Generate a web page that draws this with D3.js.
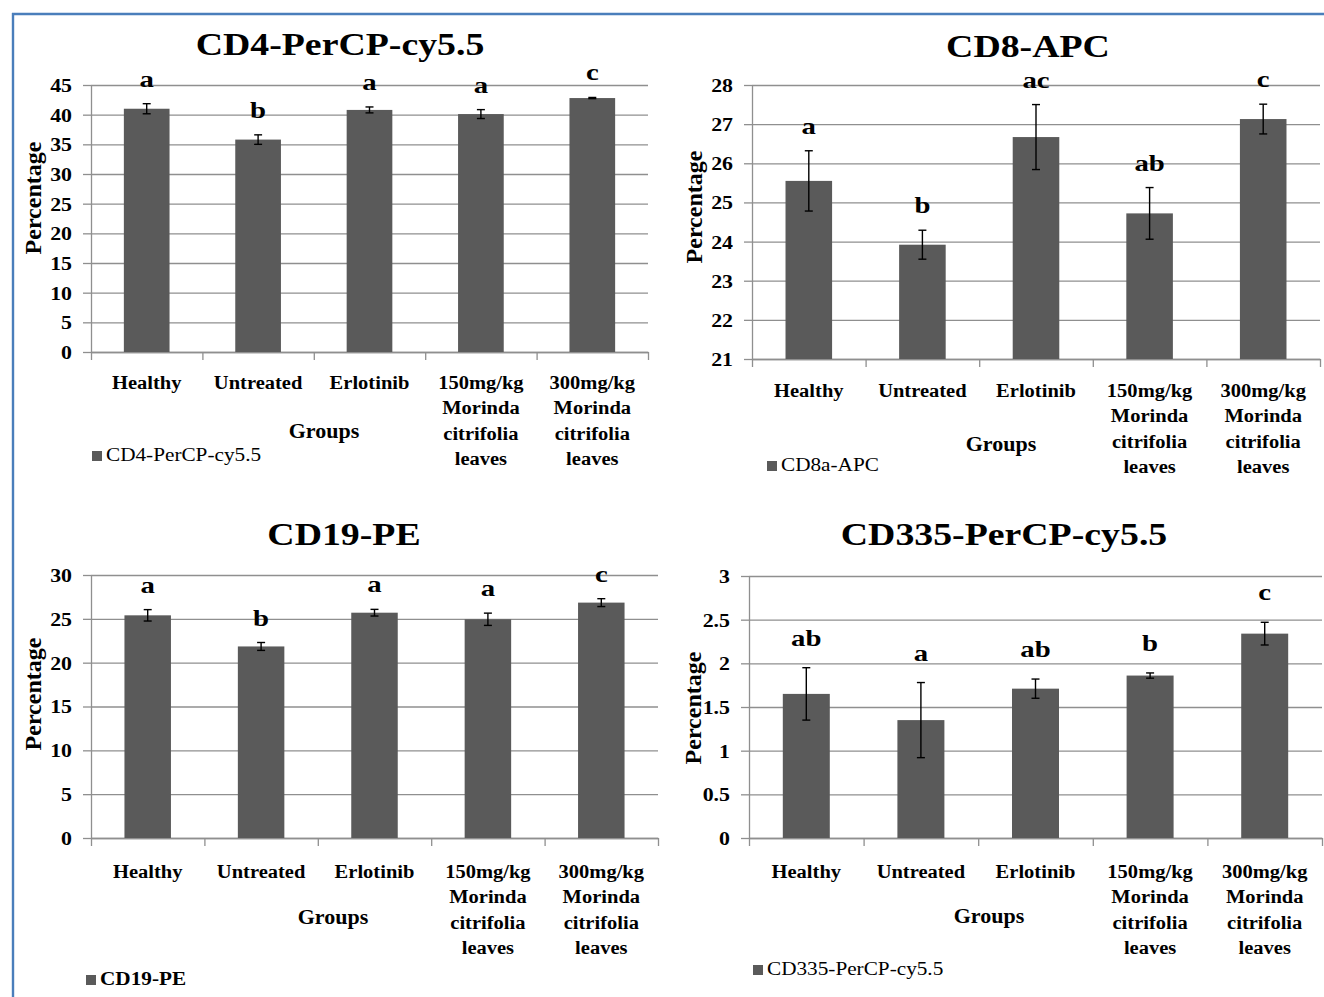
<!DOCTYPE html>
<html>
<head>
<meta charset="utf-8">
<script src="https://cdn.jsdelivr.net/npm/d3@7"></script>
<style>
  html, body { margin: 0; padding: 0; background: #fff; }
  svg { display: block; }
</style>
</head>
<body>
<svg id="chart" width="1324" height="997"></svg>
<script>
// ---------- DATA ----------
const categories = [
  "Healthy",
  "Untreated",
  "Erlotinib",
  "150mg/kg\nMorinda\ncitrifolia\nleaves",
  "300mg/kg\nMorinda\ncitrifolia\nleaves"
];

const cd4Title = "CD4-PerCP-cy5.5";
const cd4Legend = "CD4-PerCP-cy5.5";
const cd4Values = [41.0, 35.8, 40.8, 40.1, 42.8];
const cd4Errors = [0.85, 0.8, 0.5, 0.75, 0.1];
const cd4Letters = ["a", "b", "a", "a", "c"];
const cd4Ticks = [0, 5, 10, 15, 20, 25, 30, 35, 40, 45];

const cd8Title = "CD8-APC";
const cd8Legend = "CD8a-APC";
const cd8Values = [25.55, 23.92, 26.67, 24.72, 27.13];
const cd8Errors = [0.77, 0.37, 0.83, 0.66, 0.38];
const cd8Letters = ["a", "b", "ac", "ab", "c"];
const cd8Ticks = [21, 22, 23, 24, 25, 26, 27, 28];

const cd19Title = "CD19-PE";
const cd19Legend = "CD19-PE";
const cd19Values = [25.4, 21.85, 25.7, 24.95, 26.85];
const cd19Errors = [0.65, 0.45, 0.38, 0.7, 0.45];
const cd19Letters = ["a", "b", "a", "a", "c"];
const cd19Ticks = [0, 5, 10, 15, 20, 25, 30];

const cd335Title = "CD335-PerCP-cy5.5";
const cd335Legend = "CD335-PerCP-cy5.5";
const cd335Values = [1.65, 1.35, 1.71, 1.86, 2.34];
const cd335Errors = [0.3, 0.43, 0.11, 0.03, 0.13];
const cd335Letters = ["ab", "a", "ab", "b", "c"];
const cd335Ticks = [0, 0.5, 1, 1.5, 2, 2.5, 3];

const yAxisTitle = "Percentage";
const xAxisTitle = "Groups";

// ---------- STYLE / LAYOUT ----------
const FONT = "'Liberation Serif', 'Times New Roman', serif";
const BAR = "#5a5a5a";
const GRID = "#8f8f8f";
const BLUE = "#4a7ebb";

const panels = [
  { title: cd4Title, legend: cd4Legend, values: cd4Values, errors: cd4Errors, letters: cd4Letters, ticks: cd4Ticks,
    x0: 91, x1: 648, yTop: 85, yBot: 352, titleX: 340, titleY: 55, groupsX: 324, groupsY: 438,
    legendX: 92, legendY: 451, legendBold: false, percX: 41, percY: 198, gap: 17, catY: 389 },
  { title: cd8Title, legend: cd8Legend, values: cd8Values, errors: cd8Errors, letters: cd8Letters, ticks: cd8Ticks,
    x0: 752, x1: 1320, yTop: 85, yBot: 359, titleX: 1028, titleY: 57, groupsX: 1001, groupsY: 451,
    legendX: 767, legendY: 461, legendBold: false, percX: 702, percY: 207, gap: 17, catY: 397 },
  { title: cd19Title, legend: cd19Legend, values: cd19Values, errors: cd19Errors, letters: cd19Letters, ticks: cd19Ticks,
    x0: 91, x1: 658, yTop: 575, yBot: 838, titleX: 344, titleY: 545, groupsX: 333, groupsY: 924,
    legendX: 86, legendY: 975, legendBold: true, percX: 41, percY: 694, gap: 17, catY: 878 },
  { title: cd335Title, legend: cd335Legend, values: cd335Values, errors: cd335Errors, letters: cd335Letters, ticks: cd335Ticks,
    x0: 749, x1: 1322, yTop: 576, yBot: 838, titleX: 1004, titleY: 545, groupsX: 989, groupsY: 923,
    legendX: 753, legendY: 965, legendBold: false, percX: 701, percY: 708, gap: 22, catY: 878 }
];

const svg = d3.select("#chart");
svg.append("rect").attr("width", 1324).attr("height", 997).attr("fill", "#fff");

// blue frame lines
svg.append("line").attr("x1", 12).attr("x2", 1324).attr("y1", 14).attr("y2", 14)
  .attr("stroke", BLUE).attr("stroke-width", 2.4);
svg.append("line").attr("x1", 13).attr("x2", 13).attr("y1", 13).attr("y2", 997)
  .attr("stroke", BLUE).attr("stroke-width", 2.4);

function label(g, x, y, s, o) {
  const t = g.append("text")
    .attr("transform", `translate(${x},${y})` + (o.rotate ? ` rotate(${o.rotate})` : "") + ` scale(${o.sx || 1},1)`)
    .attr("text-anchor", o.anchor || "middle")
    .attr("font-family", FONT)
    .attr("font-size", o.size)
    .attr("font-weight", o.weight || "bold")
    .attr("fill", "#000")
    .text(s);
  return t;
}

panels.forEach(p => {
  const g = svg.append("g");
  const y = d3.scaleLinear().domain([p.ticks[0], p.ticks[p.ticks.length - 1]]).range([p.yBot, p.yTop]);
  const x = d3.scaleBand().domain(categories).range([p.x0, p.x1]).paddingInner(0.59).paddingOuter(0.295);
  const xEdge = d3.scaleLinear().domain([0, categories.length]).range([p.x0, p.x1]);

  // gridlines
  const grid = g.append("g").attr("transform", `translate(${p.x0},0)`)
    .call(d3.axisLeft(y).tickValues(p.ticks).tickSize(-(p.x1 - p.x0)).tickFormat(""));
  grid.select(".domain").remove();
  grid.selectAll("line").attr("stroke", GRID).attr("stroke-width", 1.3);

  // y axis with tick marks and labels
  const sxTick = 1.15;
  const ya = g.append("g").attr("transform", `translate(${p.x0},0)`)
    .call(d3.axisLeft(y).tickValues(p.ticks).tickSize(8).tickSizeOuter(0).tickPadding(12).tickFormat(d => String(d)));
  ya.select(".domain").attr("stroke", GRID).attr("stroke-width", 1.3);
  ya.selectAll(".tick line").attr("stroke", GRID).attr("stroke-width", 1.3);
  ya.selectAll(".tick text")
    .attr("font-family", FONT).attr("font-size", 19).attr("font-weight", "bold").attr("fill", "#000")
    .attr("x", -19 / sxTick).attr("dy", "0.34em")
    .attr("transform", `scale(${sxTick},1)`);

  // x axis baseline and boundary ticks
  const xa = g.append("g").attr("transform", `translate(0,${p.yBot})`)
    .call(d3.axisBottom(xEdge).tickValues(d3.range(categories.length + 1)).tickSize(8).tickSizeOuter(0).tickFormat(""));
  xa.select(".domain").attr("stroke", GRID).attr("stroke-width", 1.3);
  xa.selectAll(".tick line").attr("stroke", GRID).attr("stroke-width", 1.3);

  // bars
  g.selectAll("rect.bar").data(p.values).enter().append("rect")
    .attr("class", "bar")
    .attr("x", (d, i) => x(categories[i]))
    .attr("width", x.bandwidth())
    .attr("y", d => y(d))
    .attr("height", d => p.yBot - y(d))
    .attr("fill", BAR);

  // error bars
  const cap = 4;
  p.values.forEach((v, i) => {
    const cx = x(categories[i]) + x.bandwidth() / 2;
    const e = p.errors[i];
    const eg = g.append("g").attr("stroke", "#000").attr("stroke-width", 1.4);
    eg.append("line").attr("x1", cx).attr("x2", cx).attr("y1", y(v + e)).attr("y2", y(v - e));
    eg.append("line").attr("x1", cx - cap).attr("x2", cx + cap).attr("y1", y(v + e)).attr("y2", y(v + e));
    eg.append("line").attr("x1", cx - cap).attr("x2", cx + cap).attr("y1", y(v - e)).attr("y2", y(v - e));
    // significance letters
    label(g, cx, y(v + e) - p.gap, p.letters[i], { size: 24, sx: 1.2 });
  });

  // category labels
  categories.forEach(c => {
    const cx = x(c) + x.bandwidth() / 2;
    c.split("\n").forEach((line, k) => {
      label(g, cx, p.catY + k * 25.3, line, { size: 19, sx: 1.08 });
    });
  });

  // titles
  label(g, p.titleX, p.titleY, p.title, { size: 31, sx: 1.22 });
  label(g, p.groupsX, p.groupsY, xAxisTitle, { size: 20, sx: 1.1 });
  label(g, p.percX, p.percY, yAxisTitle, { size: 24, rotate: -90 });

  // legend
  g.append("rect").attr("x", p.legendX).attr("y", p.legendY).attr("width", 10).attr("height", 10).attr("fill", BAR);
  label(g, p.legendX + 14, p.legendY + 10, p.legend,
    { size: 18, sx: 1.18, anchor: "start", weight: p.legendBold ? "bold" : "normal" });
});
</script>
</body>
</html>
